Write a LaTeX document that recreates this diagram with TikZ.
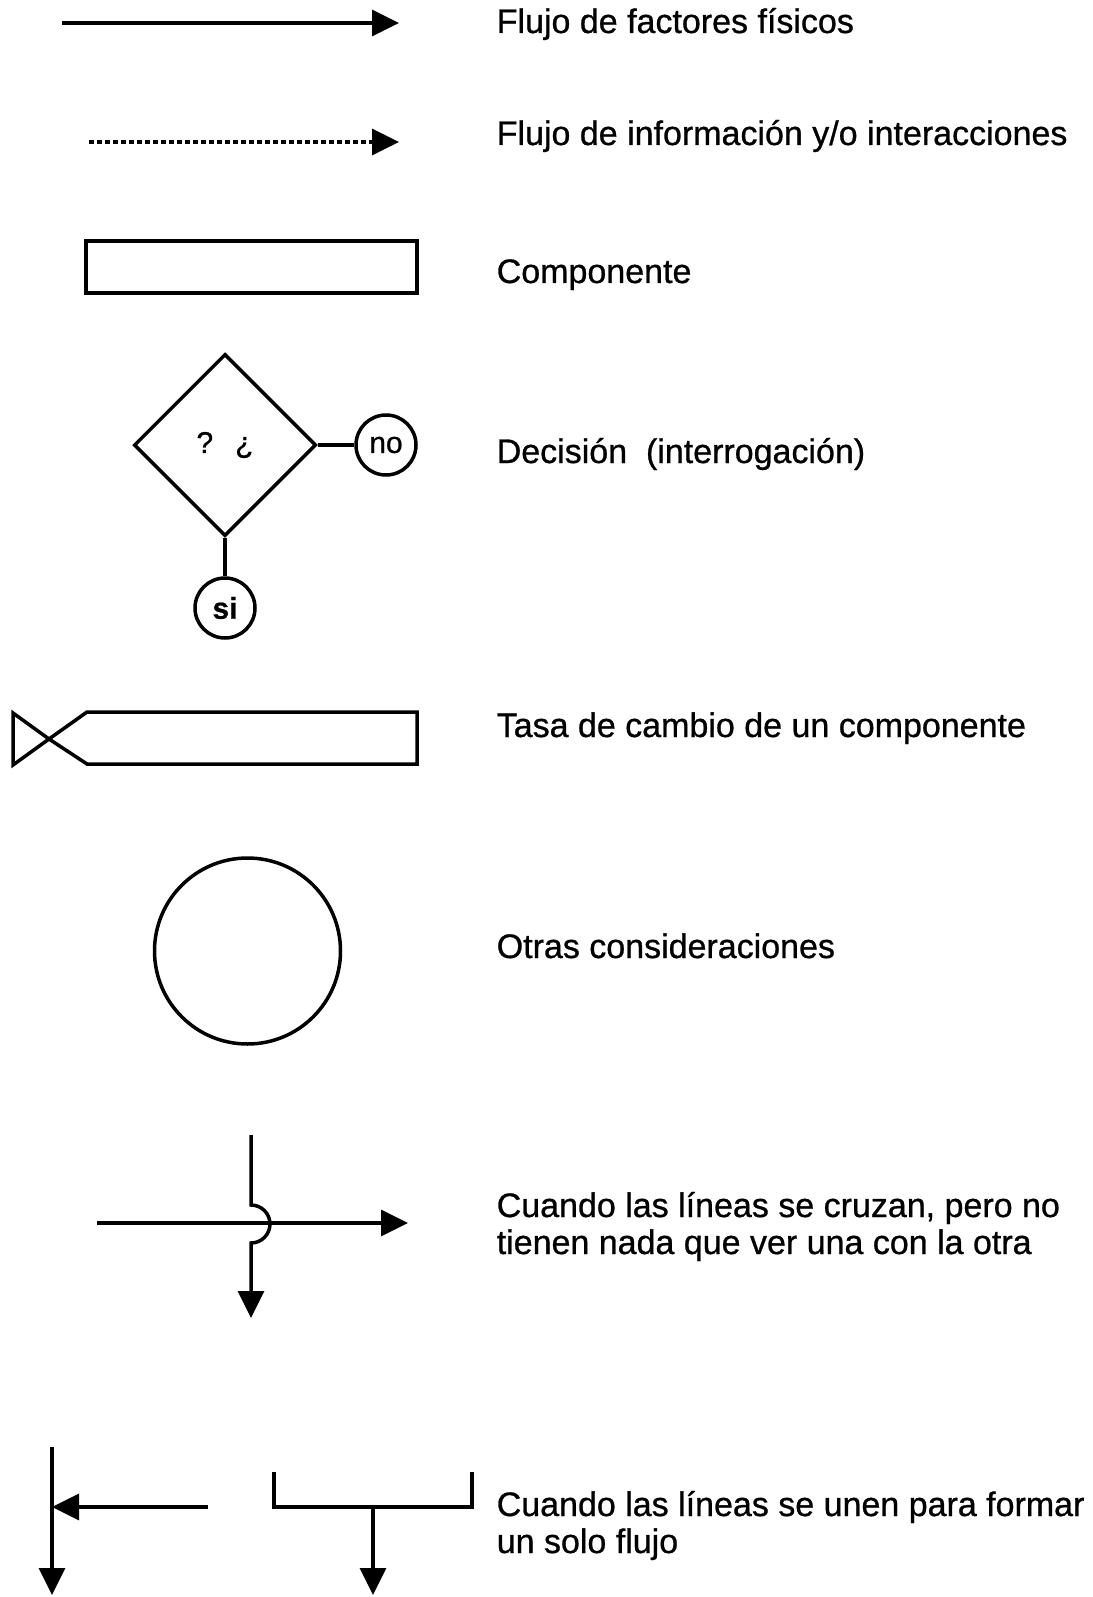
\documentclass[tikz,border=0pt]{standalone}
\usepackage{fontspec}
\setmainfont[FakeBold=0]{Liberation Sans}
\newfontfamily\lblfont[FakeBold=0.8]{Liberation Sans}
\usetikzlibrary{arrows.meta,shapes.geometric,calc}
\begin{document}
\begin{tikzpicture}[x=1pt,y=-1pt,
  line width=3.5pt,
  tip/.style={-{Triangle[length=27pt,width=26pt]}},
  lbl/.style={anchor=base west,inner sep=0pt,font=\lblfont\fontsize{34}{37}\selectfont,align=left},
  circ/.style={draw,circle,minimum size=60pt,inner sep=0pt,font=\lblfont\fontsize{30}{30}\selectfont},
  infodash/.style={dash pattern=on 5pt off 3pt,line width=3.5pt}]
\useasboundingbox (0,0) rectangle (1092,1597);

% row 1: physical flow
\coordinate (f1s) at (62,23);
\coordinate (f1e) at (399,23);
\draw[tip] (f1s) -- (f1e);
\node[lbl] (t1) at (495,33) {Flujo de factores físicos};

% row 2: information flow
\coordinate (f2s) at (89,142);
\coordinate (f2e) at (399,142);
\draw[infodash] (f2s) -- ($(f2e)+(-20,0)$);
\draw[tip] ($(f2e)+(-22,0)$) -- (f2e);
\node[lbl] (t2) at (495,145) {Flujo de información y/o interacciones};

% row 3: component
\node[draw,minimum width=331pt,minimum height=52pt,inner sep=0pt] (comp) at (251.5,267) {};
\node[lbl] (t3) at (495,283) {Componente};

% row 4: decision
\node[draw,diamond,minimum size=182pt,inner sep=0pt,font=\lblfont\fontsize{30}{30}\selectfont] (dec) at (225,445) {?\hspace{22pt}¿};
\node[circ] (no) at (386,445) {no};
\node[circ,font=\lblfont\fontsize{30}{30}\selectfont\bfseries] (si) at (225,608) {si};
\draw (dec.east) -- (no);
\draw (dec.south) -- (si);
\node[lbl] (t4) at (495,463) {Decisión\ \ (interrogación)};

% row 5: rate of change
\coordinate (v1) at (13,713);
\coordinate (v2) at (13,765);
\coordinate (vx) at (49,739);
\coordinate (r1) at (87,712);
\coordinate (r2) at (417,712);
\coordinate (r3) at (417,764);
\coordinate (r4) at (87,764);
\draw[line join=miter] (vx) -- (v1) -- (v2) -- cycle;
\draw (vx) -- (r1) -- (r2) -- (r3) -- (r4) -- (vx);
\node[lbl] (t5) at (495,737) {Tasa de cambio de un componente};

% row 6: other considerations
\node[draw,circle,minimum size=186pt,inner sep=0pt] (otras) at (247.5,951) {};
\node[lbl] (t6) at (495,958) {Otras consideraciones};

% row 7: crossing lines
\coordinate (hs) at (97,1223);
\coordinate (he) at (408,1223);
\coordinate (vs) at (251,1135);
\coordinate (vb) at (251,1205);
\coordinate (ve) at (251,1318);
\draw[tip] (hs) -- (he);
\draw[tip] (vs) -- (vb) arc[start angle=90,end angle=-90,radius=19pt] -- (ve);
\node[lbl] (t7) at (495,1254) {Cuando las líneas se cruzan, pero no\\tienen nada que ver una con la otra};

% row 8: joining lines
\coordinate (a1) at (52,1447);
\coordinate (a2) at (52,1595);
\coordinate (a3) at (208,1507);
\coordinate (a4) at (52,1507);
\draw[tip] (a1) -- (a2);
\draw[tip] (a3) -- (a4);
\coordinate (b1) at (274,1472);
\coordinate (b2) at (274,1507);
\coordinate (b3) at (472,1507);
\coordinate (b4) at (472,1472);
\coordinate (bm) at (373,1507);
\coordinate (be) at (373,1595);
\draw (b1) -- (b2) -- (b3) -- (b4);
\draw[tip] (bm) -- (be);
\node[lbl] (t8) at (495,1553) {Cuando las líneas se unen para formar\\un solo flujo};
\end{tikzpicture}
\end{document}
